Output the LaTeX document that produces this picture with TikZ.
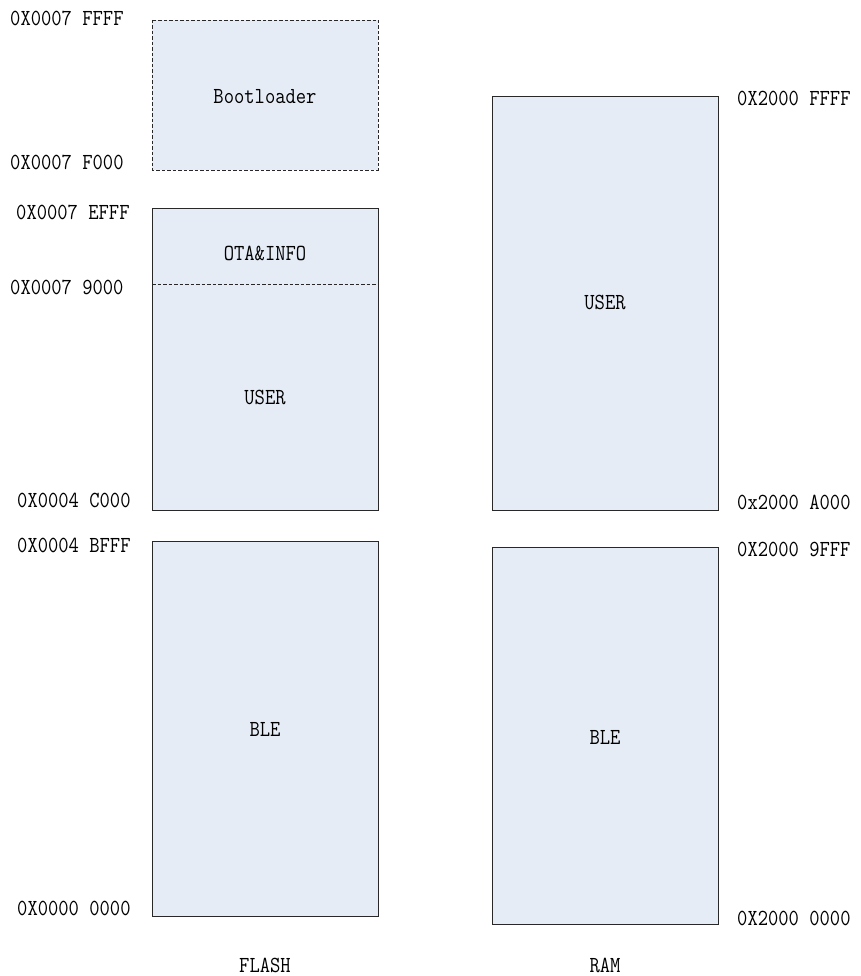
\documentclass[tikz,border=0pt]{standalone}
\usepackage{fontspec}
\setmainfont[FakeStretch=0.87]{Latin Modern Mono}
\definecolor{memfill}{RGB}{230,236,246}
\definecolor{memline}{RGB}{40,40,40}
\begin{document}
\begin{tikzpicture}[x=1pt,y=-1pt,
  font=\fontsize{23}{25}\selectfont,
  region/.style={draw=memline,fill=memfill,line width=0.9pt},
  dregion/.style={region,dashed,dash pattern=on 3.5pt off 2pt},
  addr/.style={inner sep=0pt,anchor=west},
  lbl/.style={inner sep=0pt}]
\useasboundingbox (0,0) rectangle (860,976);
% FLASH
\draw[dregion] (152,20) rectangle (378,170);
\draw[region] (152,208) rectangle (378,510);
\draw[memline,line width=0.9pt,dashed,dash pattern=on 3.5pt off 2pt] (152,284) -- (378,284);
\draw[region] (152,541) rectangle (378,916);
% RAM
\draw[region] (492,96) rectangle (718,510);
\draw[region] (492,547) rectangle (718,924);
% region labels
\node[lbl] (boot) at (265,97) {Bootloader};
\node[lbl] (ota) at (265,253) {OTA\&INFO};
\node[lbl] (fuser) at (265,397) {USER};
\node[lbl] (fble) at (265,729) {BLE};
\node[lbl] (ruser) at (605,302) {USER};
\node[lbl] (rble) at (605,737) {BLE};
\node[lbl] (flash) at (265,965) {FLASH};
\node[lbl] (ram) at (605,965) {RAM};
% addresses
\node[addr] (a1) at (10,18) {0X0007 FFFF};
\node[addr] (a2) at (10,162) {0X0007 F000};
\node[addr] (a3) at (16,212) {0X0007 EFFF};
\node[addr] (a4) at (10,287) {0X0007 9000};
\node[addr] (a5) at (17,500) {0X0004 C000};
\node[addr] (a6) at (17,545) {0X0004 BFFF};
\node[addr] (a7) at (17,908) {0X0000 0000};
\node[addr] (b1) at (737,98) {0X2000 FFFF};
\node[addr] (b2) at (737,502) {0x2000 A000};
\node[addr] (b3) at (737,549) {0X2000 9FFF};
\node[addr] (b4) at (737,918) {0X2000 0000};
\end{tikzpicture}
\end{document}
